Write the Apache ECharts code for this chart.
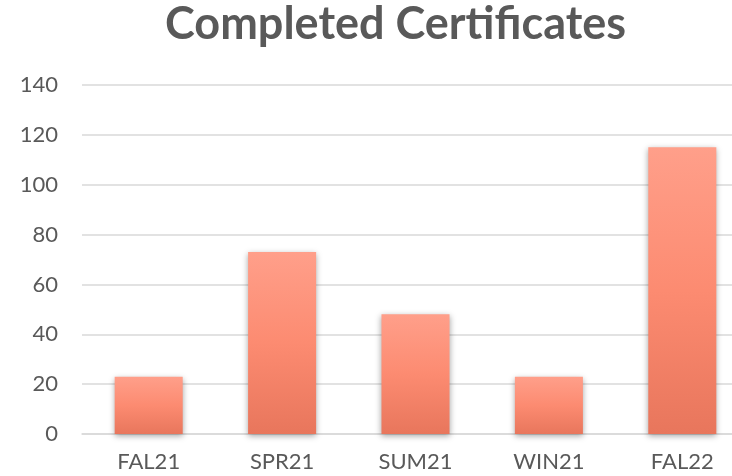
<!DOCTYPE html>
<html>
<head>
<meta charset="utf-8">
<script src="https://cdn.jsdelivr.net/npm/echarts@6/dist/echarts.min.js"></script>
<style>
  html, body { margin: 0; padding: 0; background: #fff; }
  #chart { width: 732px; height: 476px; }
</style>
</head>
<body>
<div id="chart"></div>
<script>
const terms = ['FAL21', 'SPR21', 'SUM21', 'WIN21', 'FAL22'];
const completed = [23, 73, 48, 23, 115];
const yTicks = { min: 0, max: 140, step: 20 };

const chart = echarts.init(document.getElementById('chart'));

const barColor = new echarts.graphic.LinearGradient(0, 0, 0, 1, [
    { offset: 0, color: '#ff9f8a' },
    { offset: 0.5, color: '#fc8b71' },
    { offset: 1, color: '#e8765c' }
]);

const option = {
    animation: false,
    title: {
        text: 'Completed Certificates',
        left: 160,
        top: -3,
        textStyle: {
            fontFamily: 'Lato',
            fontWeight: 'bold',
            fontSize: 45,
            color: '#595959'
        }
    },
    grid: {
        left: 82,
        right: -17,
        top: 85,
        bottom: 42,
        outerBoundsMode: 'none'
    },
    xAxis: {
        type: 'category',
        data: terms,
        axisLine: { show: true, lineStyle: { color: '#d9d9d9', width: 1.5 } },
        axisTick: { show: false },
        axisLabel: {
            color: '#595959',
            fontFamily: 'Lato',
            fontSize: 22,
            margin: 17
        }
    },
    yAxis: {
        type: 'value',
        min: yTicks.min,
        max: yTicks.max,
        interval: yTicks.step,
        axisLine: { show: false },
        axisTick: { show: false },
        axisLabel: {
            color: '#595959',
            fontFamily: 'Lato',
            fontSize: 22,
            margin: 24
        },
        splitLine: { lineStyle: { color: '#d9d9d9', width: 1.5 } }
    },
    series: [{
        type: 'bar',
        data: completed,
        barWidth: '51%',
        itemStyle: {
            color: barColor,
            shadowColor: 'rgba(0,0,0,0.35)',
            shadowBlur: 6,
            shadowOffsetY: 2
        }
    }]
};

chart.setOption(option);
window.addEventListener('resize', () => chart.resize());
</script>
</body>
</html>
